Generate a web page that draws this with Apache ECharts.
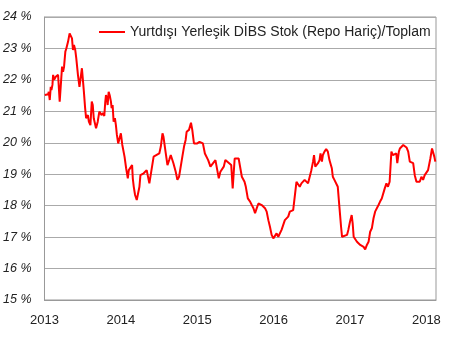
<!DOCTYPE html>
<html><head><meta charset="utf-8">
<script src="https://cdn.jsdelivr.net/npm/echarts@6/dist/echarts.min.js"></script>
<style>html,body{margin:0;padding:0;background:#fff}#c{width:450px;height:355px}</style>
</head><body><div id="c"></div>
<script>
var seriesName = 'Yurtdışı Yerleşik DİBS Stok (Repo Hariç)/Toplam';
var yearTicks = [2013, 2014, 2015, 2016, 2017, 2018];
// offsets in years from 2013.0
var yearOffsets = [
0.004,0.026,0.048,0.056,0.069,0.082,0.091,0.104,0.113,0.126,0.147,0.169,0.178,0.199,0.221,0.230,0.243,0.256,0.273,0.286,
0.308,0.329,0.342,0.360,0.373,0.386,0.403,0.416,0.438,0.458,0.471,0.490,0.503,0.516,0.532,0.545,0.568,0.581,0.601,0.619,
0.632,0.645,0.666,0.675,0.697,0.718,0.749,0.766,0.783,0.796,0.805,0.818,0.827,0.840,0.853,0.870,0.879,0.892,0.905,0.922,
0.935,0.948,0.965,0.978,1.000,1.019,1.048,1.069,1.091,1.104,1.147,1.156,1.169,1.186,1.208,1.225,1.243,1.256,1.299,1.338,
1.373,1.386,1.429,1.451,1.503,1.523,1.545,1.558,1.588,1.610,1.632,1.653,1.688,1.718,1.740,1.762,1.805,1.827,1.848,1.861,
1.892,1.918,1.935,1.957,2.000,2.030,2.074,2.100,2.143,2.173,2.195,2.238,2.282,2.303,2.347,2.368,2.381,2.445,2.464,2.490,
2.542,2.584,2.619,2.636,2.662,2.692,2.714,2.736,2.757,2.779,2.801,2.822,2.844,2.866,2.887,2.909,2.931,2.952,2.974,2.996,
3.039,3.061,3.104,3.147,3.191,3.212,3.234,3.256,3.277,3.299,3.342,3.364,3.406,3.429,3.451,3.494,3.516,3.529,3.545,3.581,
3.601,3.614,3.632,3.645,3.666,3.688,3.710,3.731,3.762,3.775,3.796,3.818,3.840,3.861,3.883,3.896,3.918,3.961,3.978,4.000,
4.022,4.035,4.048,4.069,4.091,4.113,4.134,4.156,4.178,4.199,4.221,4.243,4.264,4.286,4.308,4.329,4.351,4.373,4.394,4.416,
4.455,4.477,4.497,4.519,4.542,4.562,4.606,4.619,4.640,4.653,4.697,4.718,4.740,4.762,4.783,4.805,4.827,4.848,4.870,4.892,
4.913,4.935,4.957,4.978,5.000,5.022,5.035,5.052,5.074,5.088,5.104,5.117
];
var values = [
21.52,21.57,21.54,21.62,21.36,21.78,21.68,21.84,22.16,22.00,22.10,22.05,22.16,21.31,21.31,22.42,22.26,22.42,22.90,23.00,
23.21,23.48,23.45,23.32,22.95,23.11,22.95,22.69,22.16,21.78,21.73,22.37,22.00,21.62,21.10,20.78,20.88,20.67,20.56,21.31,
21.20,20.78,20.56,20.46,20.67,20.99,20.88,20.95,20.85,21.31,21.52,21.41,21.20,21.62,21.52,21.31,21.10,21.20,20.67,20.78,
20.56,20.25,19.98,19.93,20.30,19.93,19.56,19.19,18.87,19.13,19.29,18.87,18.60,18.34,18.18,18.23,18.60,18.97,19.03,19.13,
18.71,18.66,19.56,19.61,19.66,19.88,20.30,20.19,19.66,19.29,19.45,19.61,19.35,19.08,18.82,18.92,19.56,19.88,20.09,20.35,
20.41,20.64,20.41,19.98,19.98,20.03,19.98,19.66,19.45,19.24,19.19,19.45,18.87,19.08,19.24,19.45,19.50,19.29,18.55,19.50,
19.50,18.92,18.76,18.60,18.23,18.13,18.02,17.92,17.76,17.92,18.07,18.13,18.02,17.97,17.92,17.81,17.54,17.33,17.07,16.96,
17.12,17.01,17.23,17.54,17.65,17.81,17.86,17.86,17.86,18.76,18.60,18.71,18.82,18.87,18.71,19.13,19.40,19.61,19.24,19.35,
19.45,19.66,19.40,19.61,19.72,19.80,19.72,19.45,19.19,18.92,18.82,18.76,18.60,17.97,17.33,17.01,17.01,17.07,17.23,17.49,
17.70,17.44,17.01,16.96,16.85,16.85,16.75,16.80,16.69,16.61,16.75,16.85,17.17,17.28,17.60,17.81,17.86,18.02,18.13,18.23,
18.55,18.71,18.60,18.76,19.72,19.61,19.66,19.35,19.72,19.82,19.93,19.93,19.85,19.72,19.40,19.40,19.35,18.97,18.76,18.71,
18.76,18.92,18.82,18.97,19.05,19.13,19.08,19.50,19.82,19.82,19.56,19.40
];
var baseYear = 2013;
var xMax = 2018.126;
var yMin = 15, yMax = 24;

var data = yearOffsets.map(function (o, i) { return [baseYear + o, values[i]]; });

var chart = echarts.init(document.getElementById('c'), null, {renderer: 'canvas'});
chart.setOption({
  animation: false,
  backgroundColor: '#fff',
  textStyle: {fontFamily: 'Liberation Sans, Arial, sans-serif'},
  grid: {left: 41, right: 14, top: 17, bottom: 55, show: true, borderColor: '#999', borderWidth: 1, backgroundColor: 'transparent'},
  legend: {
    show: true, left: 94, top: 20, itemWidth: 26, itemHeight: 14, itemGap: 4,
    icon: 'path://M0,6 L26,6 L26,8 L0,8 Z',
    textStyle: {fontSize: 14, color: '#222', fontFamily: 'Liberation Sans, Arial, sans-serif'},
    data: [seriesName]
  },
  xAxis: {
    type: 'value', min: baseYear, max: xMax, interval: 1,
    axisLine: {show: true, lineStyle: {color: '#999'}},
    axisTick: {show: false},
    splitLine: {show: false},
    axisLabel: {
      margin: 14, fontSize: 13, color: '#222',
      formatter: function (v) { return yearTicks.indexOf(Math.round(v * 1000) / 1000) >= 0 ? String(v) : ''; }
    }
  },
  yAxis: {
    type: 'value', min: yMin, max: yMax, interval: 1,
    axisLine: {show: true, lineStyle: {color: '#999'}},
    axisTick: {show: false},
    splitLine: {show: true, lineStyle: {color: '#aaa', width: 1}},
    axisLabel: {margin: 13, fontSize: 12.5, fontStyle: 'italic', color: '#222', formatter: function (v) { return v + ' %'; }}
  },
  series: [{
    name: seriesName, type: 'line', data: data, showSymbol: false, symbol: 'none',
    lineStyle: {color: '#ff0000', width: 2}, itemStyle: {color: '#ff0000'}
  }]
});
</script></body></html>
